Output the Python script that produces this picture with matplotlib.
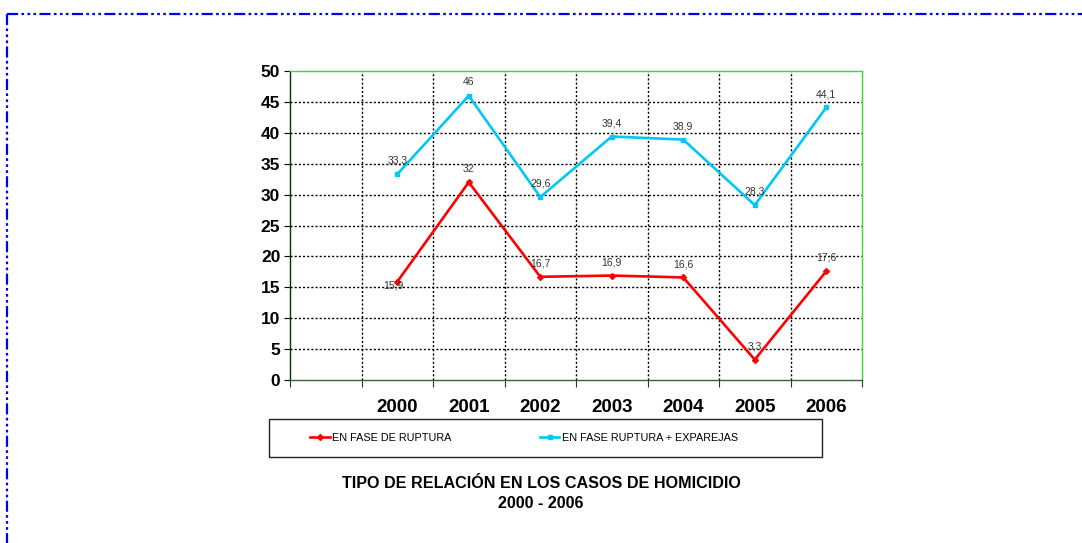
import matplotlib.pyplot as plt
from matplotlib.lines import Line2D
from matplotlib.patches import Rectangle

plt.rcParams['font.family'] = ['Liberation Sans', 'DejaVu Sans']

years = ['2000', '2001', '2002', '2003', '2004', '2005', '2006']
ruptura = [15.9, 32, 16.7, 16.9, 16.6, 3.3, 17.6]
ruptura_ex = [33.3, 46, 29.6, 39.4, 38.9, 28.3, 44.1]
red = '#FF0000'
cyan = '#00C8F5'

fig = plt.figure(figsize=(10.82, 5.43), dpi=100)
ax = fig.add_axes([290/1082, 1-380/543, 572/1082, 309/543])

# first category slot is empty, years start in slot 2
x = [i + 1.5 for i in range(len(years))]

ax.plot(x, ruptura, color=red, lw=1.9, marker='D', ms=3, mec=red, mfc=red,
        label='EN FASE DE RUPTURA', zorder=3)
ax.plot(x, ruptura_ex, color=cyan, lw=1.9, marker='s', ms=3.5, mec=cyan, mfc=cyan,
        label='EN FASE RUPTURA + EXPAREJAS', zorder=3)

for xi, v in zip(x, ruptura):
    off = (-3, -2.5) if v == 15.9 else (0, 6)
    ax.annotate(str(v).replace('.', ','), (xi, v), xytext=off, textcoords='offset points',
                ha='center', va='bottom' if off[1] > 0 else 'center', fontsize=7.5, color='#333333')
for xi, v in zip(x, ruptura_ex):
    ax.annotate(str(v).replace('.', ','), (xi, v), xytext=(0, 6), textcoords='offset points',
                ha='center', va='bottom', fontsize=7.5, color='#333333')

ax.set_xlim(0, 8)
ax.set_ylim(0, 50)
ax.set_yticks(range(0, 51, 5))
ax.set_xticks(range(0, 9))
ax.set_xticklabels([])
ax.set_xticks(x, minor=True)
ax.set_xticklabels(years, minor=True)
ax.tick_params(axis='x', which='major', direction='out', length=5, color='#333333')
ax.tick_params(axis='x', which='minor', length=0, pad=14, labelsize=13.5)
ax.tick_params(axis='y', direction='out', length=4, labelsize=12.5, pad=3)
for lab in ax.get_xticklabels(minor=True) + ax.get_yticklabels():
    lab.set_fontweight('bold')

for v in range(5, 50, 5):
    ax.axhline(v, color='black', lw=1, ls=(0, (1.5, 1.5)), zorder=1)
for v in range(1, 8):
    ax.axvline(v, color='black', lw=1, ls=(0, (1.5, 1.5)), zorder=1)

ax.spines['top'].set_color('#33DD33')
ax.spines['right'].set_color('#33DD33')
ax.spines['left'].set_color('#003300')
ax.spines['bottom'].set_color('#336633')
for s in ax.spines.values():
    s.set_linewidth(1)

# legend box
fig.patches.append(Rectangle((269/1082, 1-457/543), 553/1082, 38/543, transform=fig.transFigure,
                             fill=False, ec='#222222', lw=1))
h, l = ax.get_legend_handles_labels()
fig.legend(h, l, loc='center left', bbox_to_anchor=(310/1082, 1-438/543), ncol=2, frameon=False,
           fontsize=7.8, handlelength=1.8, handletextpad=0.2, columnspacing=8.2, borderaxespad=0,
           borderpad=0)

fig.text(541/1082, 1-483/543, 'TIPO DE RELACIÓN EN LOS CASOS DE HOMICIDIO', ha='center', va='center',
         fontsize=11.6, fontweight='bold')
fig.text(541/1082, 1-503/543, '2000 - 2006', ha='center', va='center', fontsize=11.6, fontweight='bold')

# page border (dash-dot)
dash = (0, (5, 1.5, 1.2, 1.5, 1.2, 1.5, 1.2, 1.5))
fig.add_artist(Line2D([7/1082, 1], [1-14/543, 1-14/543], transform=fig.transFigure,
                      color='#0000EE', lw=1.6, ls=dash))
fig.add_artist(Line2D([7/1082, 7/1082], [1-14/543, 0], transform=fig.transFigure,
                      color='#0000EE', lw=1.6, ls=dash))

fig.savefig('out.png', dpi=100)
